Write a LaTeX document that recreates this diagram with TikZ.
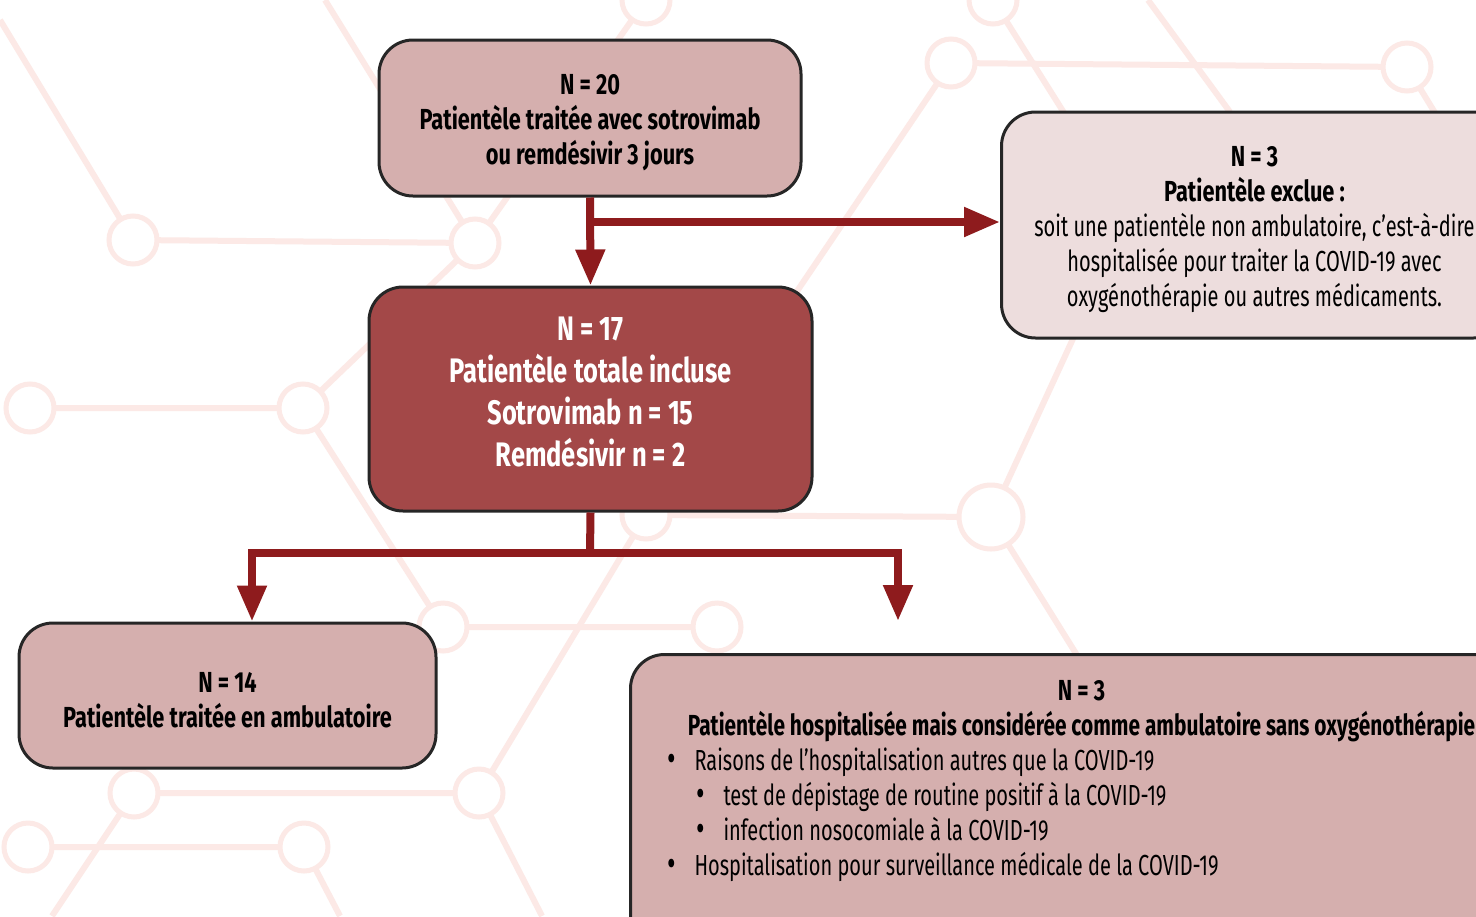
\documentclass[tikz,border=0pt]{standalone}
\usepackage{fontspec}
\setmainfont{Fira Sans}[FakeStretch=0.69, BoldFeatures={FakeStretch=0.75}]
\usetikzlibrary{arrows.meta}

\definecolor{boxpink}{HTML}{D5AFAE}
\definecolor{boxlight}{HTML}{EDDDDD}
\definecolor{boxdark}{HTML}{A34848}
\definecolor{boxline}{HTML}{262626}
\definecolor{arrowred}{HTML}{8E1B1D}
\definecolor{netpink}{HTML}{FCE9E6}

\newcommand{\pad}{\rule{0pt}{14.5pt}}
\newcommand{\bigdot}{\raisebox{-0.6pt}{\fontsize{19pt}{0pt}\selectfont\textbullet}}
\newcommand{\bulA}[1]{\makebox[414pt][l]{\makebox[13.5pt][l]{\bigdot}#1}}
\newcommand{\bulB}[1]{\makebox[414pt][l]{\hspace{14.5pt}\makebox[13.5pt][l]{\bigdot}#1}}

\begin{document}
\begin{tikzpicture}[x=0.5pt, y=-0.5pt,
  box/.style={draw=boxline, line width=1.5pt, rounded corners=17pt, align=center, inner sep=6pt},
  pinkbox/.style={box, fill=boxpink, font=\fontsize{14.5pt}{17.5pt}\selectfont},
  lightbox/.style={box, fill=boxlight, font=\fontsize{14.5pt}{17.5pt}\selectfont},
  darkbox/.style={box, fill=boxdark, text=white, font=\fontsize{17pt}{21pt}\selectfont\bfseries},
  conn/.style={draw=arrowred, line width=4pt, line join=miter},
  arr/.style={conn, -{Triangle[width=14pt,length=18pt]}},
  net/.style={draw=netpink, line width=3pt},
  hub/.style={draw=netpink, line width=2.5pt, fill=white}]

\useasboundingbox (0,0) rectangle (1476,916);
\clip (0,0) rectangle (1476,916);
\fill[white] (0,0) rectangle (1476,916);

% background network
\draw[net] (0,20) -- (133,240) -- (475,243) -- (646,0);
\draw[net] (325,0) -- (475,243) -- (303,408) -- (30,408);
\draw[net] (303,408) -- (443,627) -- (717,627);
\draw[net] (134,793) -- (479,793) -- (646,515) -- (991,517);
\draw[net] (52,916) -- (134,793);
\draw[net] (28,847) -- (304,847) -- (340,916);
\draw[net] (479,793) -- (542,916);
\draw[net] (646,515) -- (951,63) -- (1407,67) -- (1476,180);
\draw[net] (993,0) -- (1100,170);
\draw[net] (1148,0) -- (1230,112);
\draw[net] (1100,280) -- (991,517) -- (1080,660);
\foreach \p in {(133,240),(475,243),(30,408),(303,408),(443,627),(717,627),
  (134,793),(479,793),(28,847),(304,847),(646,515),(646,0),(993,0),(951,63),(1407,67)}
  \draw[hub] \p circle[radius=12pt];
\draw[hub] (991,517) circle[radius=16pt];

\node[pinkbox, minimum width=211pt, minimum height=78pt] (start) at (590,118)
  {\pad\textbf{N = 20}\\\textbf{Patientèle traitée avec sotrovimab}\\\textbf{ou remdésivir 3 jours}};

\node[lightbox, anchor=west, minimum width=253pt, minimum height=113pt] (excl) at (1000,225)
  {\pad\textbf{N = 3}\\\textbf{Patientèle exclue :}\\soit une patientèle non ambulatoire, c’est-à-dire\\hospitalisée pour traiter la COVID-19 avec\\oxygénothérapie ou autres médicaments.};

\node[darkbox, minimum width=221.5pt, minimum height=112pt] (incl) at (590.5,399)
  {N = 17\\Patientèle totale incluse\\Sotrovimab n = 15\\Remdésivir n = 2\rule[-7pt]{0pt}{7pt}};

\node[pinkbox, minimum width=208.5pt, minimum height=72.5pt] (amb) at (227.5,695.5)
  {\pad\textbf{N = 14}\\\textbf{Patientèle traitée en ambulatoire}};

\node[pinkbox, anchor=north west, minimum width=451pt, inner ysep=13pt] (hosp) at (629,653)
  {\textbf{N = 3}\\\scalebox{0.96}[1]{\textbf{Patientèle hospitalisée mais considérée comme ambulatoire sans oxygénothérapie}}\\
   \bulA{Raisons de l’hospitalisation autres que la COVID-19}\\
   \bulB{test de dépistage de routine positif à la COVID-19}\\
   \bulB{infection nosocomiale à la COVID-19}\\
   \bulA{Hospitalisation pour surveillance médicale de la COVID-19}\rule[-30pt]{0pt}{30pt}};

\coordinate (b1) at (590,222);
\coordinate (b2) at (590,553);
\coordinate (t1) at (252,621);
\coordinate (t2) at (898,621);

\draw[arr] (start.south) -- (incl.north);
\draw[arr] (b1) -- (b1 -| excl.west);
\draw[conn] (incl.south) -- (b2);
\draw[arr] (b2) -| (amb.north -| t1);
\draw[arr] (b2) -| (t2);

\end{tikzpicture}
\end{document}
